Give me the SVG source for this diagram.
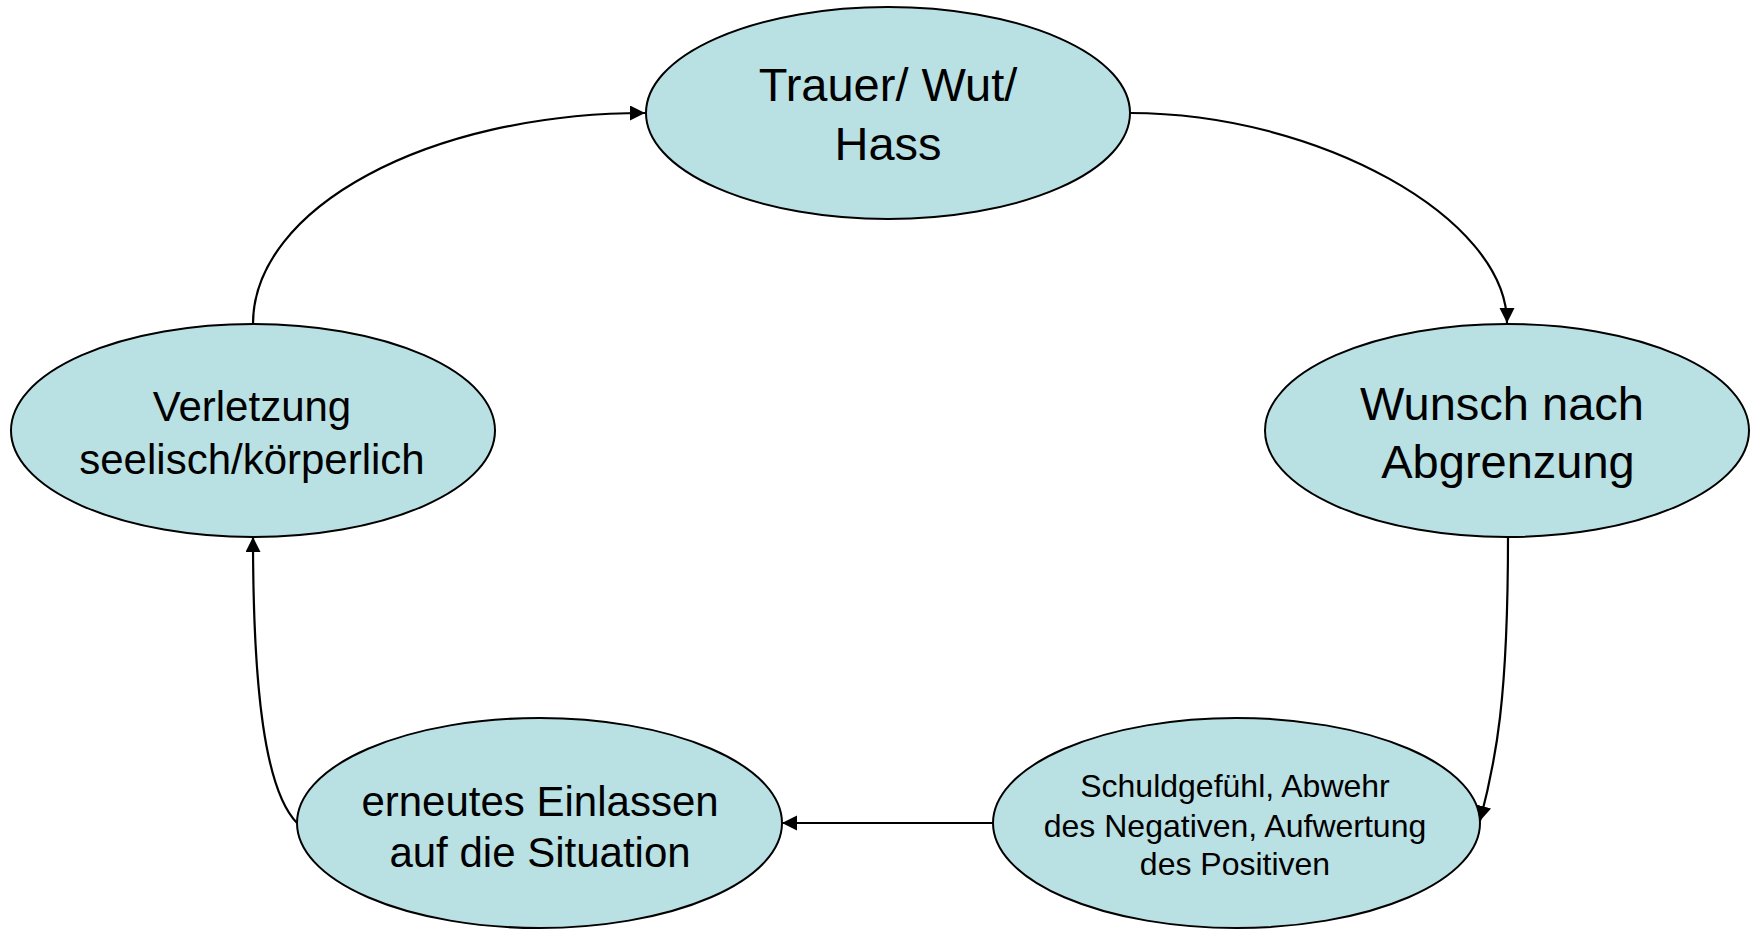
<svg xmlns="http://www.w3.org/2000/svg" width="1756" height="929" viewBox="0 0 1756 929">
<style>
.node ellipse{fill:#B9E0E3;stroke:#000;stroke-width:2}
.node text{font-family:"Liberation Sans",Arial,sans-serif;fill:#000;text-anchor:middle}
.conn path{fill:none;stroke:#000;stroke-width:2.2}
</style>
<defs>
<marker id="arr" markerUnits="userSpaceOnUse" markerWidth="16" markerHeight="16" refX="15" refY="7.5" orient="auto" viewBox="0 0 16 16">
<path d="M0,0 L15,7.5 L0,15 z" fill="#000"/>
</marker>
</defs>
<rect width="1756" height="929" fill="#fff"/>
<g id="node-trauer" class="node">
<ellipse cx="888" cy="113" rx="242" ry="106"/>
<text x="888" y="101" font-size="47">Trauer/ Wut/</text>
<text x="888" y="160" font-size="47">Hass</text>
</g>
<g id="node-wunsch" class="node">
<ellipse cx="1507" cy="430.5" rx="242" ry="106.5"/>
<text x="1502" y="420" font-size="47">Wunsch nach</text>
<text x="1508" y="478" font-size="47">Abgrenzung</text>
</g>
<g id="node-verletzung" class="node">
<ellipse cx="253" cy="430.5" rx="242" ry="106.5"/>
<text x="252" y="421" font-size="42">Verletzung</text>
<text x="252" y="474" font-size="42">seelisch/körperlich</text>
</g>
<g id="node-schuld" class="node">
<ellipse cx="1236.5" cy="823" rx="243.5" ry="105"/>
<text x="1235" y="797" font-size="32">Schuldgefühl, Abwehr</text>
<text x="1235" y="837" font-size="32">des Negativen, Aufwertung</text>
<text x="1235" y="875" font-size="32">des Positiven</text>
</g>
<g id="node-einlassen" class="node">
<ellipse cx="539.5" cy="823" rx="242.5" ry="105"/>
<text x="540" y="816" font-size="42">erneutes Einlassen</text>
<text x="540" y="867" font-size="42">auf die Situation</text>
</g>
<g id="connectors" class="conn">
<path d="M253,324 C253,208 428,113 645,113" marker-end="url(#arr)"/>
<path d="M1130,113 C1318,113 1507,218 1507,323" marker-end="url(#arr)"/>
<path d="M1508,537 C1508,700 1496,760 1480,821" marker-end="url(#arr)"/>
<path d="M993,823 L782,823" marker-end="url(#arr)"/>
<path d="M297,823 C265,790 253,690 253,537" marker-end="url(#arr)"/>
</g>
</svg>
